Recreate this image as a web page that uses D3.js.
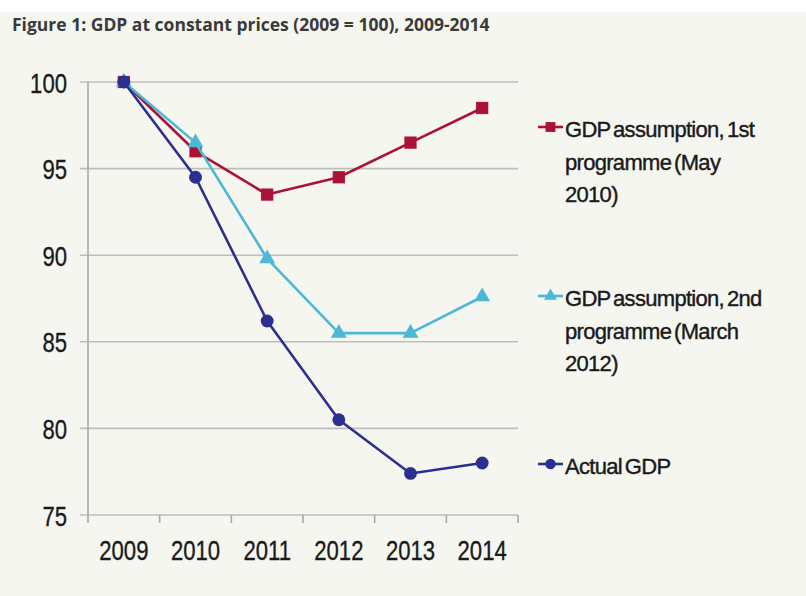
<!DOCTYPE html>
<html>
<head>
<meta charset="utf-8">
<script src="https://cdn.jsdelivr.net/npm/d3@7"></script>
<style>
  html, body { margin: 0; padding: 0; background: #ffffff; }
  svg { display: block; }
</style>
</head>
<body>
<svg id="chart" width="806" height="596"></svg>
<script>
// GDP at constant prices, index 2009 = 100
const years = ["2009", "2010", "2011", "2012", "2013", "2014"];
const firstProgramme = [100, 96, 93.5, 94.5, 96.5, 98.5];
const secondProgramme = [100, 96.5, 89.8, 85.5, 85.5, 87.6];
const actualGdp = [100, 94.5, 86.2, 80.5, 77.4, 78.0];
const yTicks = [75, 80, 85, 90, 95, 100];
const seriesNames = [
  ["GDP assumption, 1st", "programme (May", "2010)"],
  ["GDP assumption, 2nd", "programme (March", "2012)"],
  ["Actual GDP"]
];

const series = [
  { values: firstProgramme, color: "#ab1237", symbol: d3.symbolSquare, size: 150, lines: seriesNames[0], legendY: 127 },
  { values: secondProgramme, color: "#4bb9d5", symbol: d3.symbolTriangle, size: 110, lines: seriesNames[1], legendY: 296 },
  { values: actualGdp, color: "#2b2f8f", symbol: d3.symbolCircle, size: 130, lines: seriesNames[2], legendY: 464 }
];

const svg = d3.select("#chart");
const W = 806, H = 596;

// page background band
svg.append("rect").attr("x", 0).attr("y", 12).attr("width", W).attr("height", H - 12).attr("fill", "#f6f6f1");

svg.append("text")
  .attr("x", 12).attr("y", 31)
  .attr("font-family", "'Open Sans', 'Noto Sans', sans-serif")
  .attr("font-weight", 700).attr("font-size", 17.5)
  .attr("fill", "#3a3a3a")
  .text("Figure 1: GDP at constant prices (2009 = 100), 2009-2014");

const plot = { left: 88, right: 518, top: 82, bottom: 515 };

const x = d3.scaleBand().domain(years).range([plot.left, plot.right]);
const y = d3.scaleLinear().domain([75, 100]).range([plot.bottom, plot.top]);
const cx = d => x(d) + x.bandwidth() / 2;

const labelFont = "'Liberation Sans', Arial, sans-serif";
const squeeze = 0.79;

// horizontal gridlines with left tick stubs
svg.append("g").selectAll("line").data(yTicks).join("line")
  .attr("x1", plot.left - 8).attr("x2", plot.right)
  .attr("y1", d => y(d)).attr("y2", d => y(d))
  .attr("stroke", "#bdbdbb").attr("stroke-width", 1.6);

// y axis line
svg.append("line")
  .attr("x1", plot.left).attr("x2", plot.left)
  .attr("y1", plot.top).attr("y2", plot.bottom)
  .attr("stroke", "#a9a9a7").attr("stroke-width", 1.6);

// x tick marks at category boundaries
const bounds = years.map(d => x(d)).concat([plot.right]);
svg.append("g").selectAll("line").data(bounds).join("line")
  .attr("x1", d => d).attr("x2", d => d)
  .attr("y1", plot.bottom).attr("y2", plot.bottom + 8)
  .attr("stroke", "#a9a9a7").attr("stroke-width", 1.6);

// y axis labels
const yAxis = svg.append("g")
  .attr("transform", `translate(${plot.left},0)`)
  .call(d3.axisLeft(y).tickValues(yTicks).tickSize(0).tickPadding(0).tickFormat(d3.format("d")));
yAxis.select(".domain").remove();
yAxis.selectAll("text")
  .attr("font-family", labelFont).attr("font-size", 28).attr("fill", "#1a1a1a")
  .attr("stroke", "#1a1a1a").attr("stroke-width", 0.35)
  .attr("x", -21 / squeeze).attr("dy", "0.36em")
  .attr("transform", `scale(${squeeze},1)`);

// x axis labels
const xAxis = svg.append("g")
  .attr("transform", `translate(0,${plot.bottom})`)
  .call(d3.axisBottom(x).tickSize(0).tickPadding(0));
xAxis.select(".domain").remove();
xAxis.selectAll(".tick").each(function (d) {
  d3.select(this).attr("transform", `translate(${cx(d)},0)`);
});
xAxis.selectAll("text")
  .attr("font-family", labelFont).attr("font-size", 28).attr("fill", "#1a1a1a")
  .attr("stroke", "#1a1a1a").attr("stroke-width", 0.35)
  .attr("y", 45).attr("dy", 0)
  .attr("transform", `scale(${squeeze},1)`);

// series lines and markers
const line = d3.line().x((d, i) => cx(years[i])).y(d => y(d));

series.forEach(s => {
  const g = svg.append("g");
  g.append("path")
    .attr("d", line(s.values))
    .attr("fill", "none").attr("stroke", s.color).attr("stroke-width", 2.6)
    .attr("stroke-linejoin", "round");
  g.selectAll("path.m").data(s.values).join("path")
    .attr("class", "m")
    .attr("transform", (d, i) => `translate(${cx(years[i])},${y(d)})`)
    .attr("d", d3.symbol().type(s.symbol).size(s.size))
    .attr("fill", s.color);
});

// legend
const legend = svg.append("g");
series.forEach(s => {
  const g = legend.append("g").attr("transform", `translate(538,${s.legendY})`);
  g.append("line").attr("x1", 0).attr("x2", 25).attr("y1", 0).attr("y2", 0)
    .attr("stroke", s.color).attr("stroke-width", 2.6);
  g.append("path").attr("transform", "translate(12.5,0)")
    .attr("d", d3.symbol().type(s.symbol).size(s.size * 0.65))
    .attr("fill", s.color);
  g.append("text")
    .attr("x", 27).attr("y", 10)
    .attr("font-family", labelFont).attr("font-size", 22)
    .attr("letter-spacing", -0.7).attr("word-spacing", -2.5)
    .attr("fill", "#1a1a1a").attr("stroke", "#1a1a1a").attr("stroke-width", 0.4)
    .selectAll("tspan").data(s.lines).join("tspan")
    .attr("x", 27).attr("dy", (d, i) => i === 0 ? 0 : 32.5)
    .text(d => d);
});
</script>
</body>
</html>
